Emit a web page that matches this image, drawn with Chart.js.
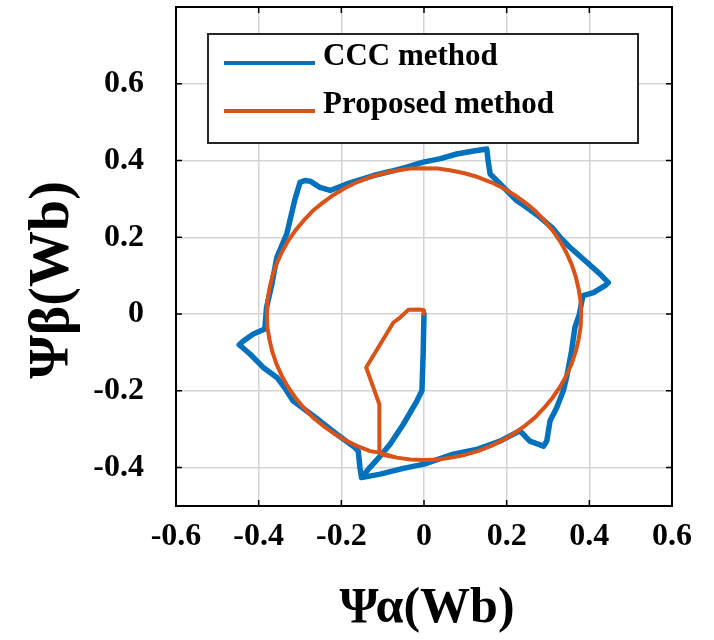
<!DOCTYPE html>
<html>
<head>
<meta charset="utf-8">
<script src="https://cdn.jsdelivr.net/npm/chart.js@4.4.1/dist/chart.umd.min.js"></script>
<style>
  body { margin: 0; background: #fff; }
  #wrap { width: 714px; height: 640px; position: relative; }
</style>
</head>
<body>
<div id="wrap"><canvas id="myChart"></canvas></div>
<script>
// CCC method flux trajectory (start-up transient, then the steady loop)
const cccX = [0.0, -0.002, -0.005, -0.017, -0.05, -0.082, -0.106, -0.131, -0.151,
    -0.106, -0.05, 0.0, 0.071, 0.13, 0.184, 0.232,
    0.256, 0.289, 0.297, 0.305, 0.321, 0.337, 0.345, 0.357, 0.365, 0.376, 0.382, 0.385,
    0.41, 0.438, 0.446, 0.426, 0.394, 0.353, 0.329, 0.313, 0.281, 0.248, 0.224, 0.2, 0.176, 0.16,
    0.155, 0.152, 0.12, 0.079, 0.04, -0.002, -0.042, -0.08, -0.122, -0.187, -0.227,
    -0.252, -0.275, -0.288, -0.3, -0.312, -0.332, -0.356, -0.368, -0.381, -0.385,
    -0.413, -0.437, -0.447, -0.421, -0.389, -0.356, -0.335, -0.317, -0.252, -0.211, -0.167, -0.159, -0.155, -0.151];
const cccY = [0.0, -0.1, -0.2, -0.226, -0.287, -0.339, -0.37, -0.4, -0.426,
    -0.417, -0.402, -0.391, -0.365, -0.352, -0.331, -0.304,
    -0.331, -0.344, -0.331, -0.278, -0.244, -0.2, -0.165, -0.096, -0.035, 0.0, 0.035, 0.048,
    0.056, 0.074, 0.082, 0.104, 0.135, 0.174, 0.2, 0.222, 0.252, 0.278, 0.296, 0.322, 0.348, 0.365,
    0.4, 0.43, 0.425, 0.417, 0.405, 0.396, 0.383, 0.372, 0.361, 0.339, 0.322,
    0.33, 0.346, 0.348, 0.343, 0.3, 0.209, 0.148, 0.078, 0.017, -0.039,
    -0.052, -0.07, -0.08, -0.104, -0.139, -0.165, -0.195, -0.226, -0.278, -0.313, -0.348, -0.357, -0.4, -0.426];

// Proposed method flux trajectory (short transient, then the circle)
const propX = [0.002, 0.0, -0.01, -0.038, -0.058, -0.074, -0.14, -0.108, -0.108,
    -0.066, -0.033, 0.0, 0.033, 0.066, 0.098, 0.13, 0.161, 0.19, 0.218, 0.244, 0.269,
    0.291, 0.311, 0.329, 0.344, 0.357, 0.367, 0.374, 0.379,
    0.38, 0.379, 0.374, 0.367, 0.357, 0.344, 0.329, 0.311, 0.291, 0.269, 0.244, 0.218,
    0.19, 0.161, 0.13, 0.098, 0.066, 0.033,
    0.0, -0.033, -0.066, -0.098, -0.13, -0.161, -0.19, -0.218, -0.244, -0.269,
    -0.291, -0.311, -0.329, -0.344, -0.357, -0.367, -0.374, -0.379,
    -0.38, -0.379, -0.374, -0.367, -0.357, -0.344, -0.329, -0.311, -0.291, -0.269, -0.244, -0.218,
    -0.19, -0.161, -0.13, -0.108, -0.098, -0.066];
const propY = [0.0, 0.01, 0.012, 0.011, -0.009, -0.022, -0.139, -0.235, -0.361,
    -0.374, -0.379, -0.38, -0.379, -0.374, -0.367, -0.357, -0.344, -0.329, -0.311, -0.291, -0.269,
    -0.244, -0.218, -0.19, -0.161, -0.13, -0.098, -0.066, -0.033,
    0.0, 0.033, 0.066, 0.098, 0.13, 0.161, 0.19, 0.218, 0.244, 0.269, 0.291, 0.311,
    0.329, 0.344, 0.357, 0.367, 0.374, 0.379,
    0.38, 0.379, 0.374, 0.367, 0.357, 0.344, 0.329, 0.311, 0.291, 0.269,
    0.244, 0.218, 0.19, 0.161, 0.13, 0.098, 0.066, 0.033,
    0.0, -0.033, -0.066, -0.098, -0.13, -0.161, -0.19, -0.218, -0.244, -0.269, -0.291, -0.311,
    -0.329, -0.344, -0.357, -0.361, -0.367, -0.374];

const xTicks = [-0.6, -0.4, -0.2, 0, 0.2, 0.4, 0.6];
const yTicks = [-0.4, -0.2, 0, 0.2, 0.4, 0.6];
const xTitle = 'Ψα(Wb)';
const yTitle = 'Ψβ(Wb)';

const serif = "'Liberation Serif', 'Times New Roman', serif";
const fmt = v => {
    const r = Math.round(v * 10) / 10;
    return r === 0 ? '0' : r.toFixed(1);
};

// box, inward ticks, axis titles and legend drawn MATLAB style
const framePlugin = {
    id: 'frame',
    afterDraw(chart) {
        const { ctx, chartArea: a, scales } = chart;
        ctx.save();
        ctx.strokeStyle = '#000';
        ctx.lineWidth = 2;
        ctx.strokeRect(a.left, a.top, a.right - a.left, a.bottom - a.top);
        ctx.lineWidth = 1.5;
        ctx.beginPath();
        xTicks.forEach(v => {
            const px = scales.x.getPixelForValue(v);
            ctx.moveTo(px, a.bottom); ctx.lineTo(px, a.bottom - 6);
            ctx.moveTo(px, a.top); ctx.lineTo(px, a.top + 6);
        });
        yTicks.forEach(v => {
            const py = scales.y.getPixelForValue(v);
            ctx.moveTo(a.left, py); ctx.lineTo(a.left + 6, py);
            ctx.moveTo(a.right, py); ctx.lineTo(a.right - 6, py);
        });
        ctx.stroke();

        // axis titles
        ctx.fillStyle = '#000';
        ctx.textAlign = 'center';
        ctx.textBaseline = 'middle';
        ctx.font = 'bold 50px ' + serif;
        ctx.fillText(xTitle, 427, 609);
        ctx.save();
        ctx.translate(54, 280);
        ctx.rotate(-Math.PI / 2);
        ctx.font = 'bold 56px ' + serif;
        ctx.fillText(yTitle, 0, 0);
        ctx.restore();

        // legend
        const lx = 208, ly = 34, lw = 430, lh = 109;
        ctx.fillStyle = '#fff';
        ctx.fillRect(lx, ly, lw, lh);
        ctx.strokeStyle = '#262626';
        ctx.lineWidth = 2;
        ctx.strokeRect(lx, ly, lw, lh);
        const rows = [65, 113];
        chart.data.datasets.forEach((ds, i) => {
            const y = rows[i];
            ctx.strokeStyle = ds.borderColor;
            ctx.lineWidth = 4;
            ctx.beginPath();
            ctx.moveTo(224, y - 2); ctx.lineTo(315, y - 2);
            ctx.stroke();
            ctx.fillStyle = '#000';
            ctx.font = 'bold 31px ' + serif;
            ctx.textBaseline = 'alphabetic';
            ctx.textAlign = 'left';
            ctx.fillText(ds.label, 323, y);
        });
        ctx.restore();
    }
};

const chartElement = document.getElementById('myChart');

new Chart(chartElement, {
    type: 'scatter',
    data: {
        datasets: [{
            label: 'CCC method',
            data: cccX.map((x, i) => ({ x: x, y: cccY[i] })),
            showLine: true,
            borderColor: '#0072BD',
            borderWidth: 5.5,
            borderJoinStyle: 'round',
            borderCapStyle: 'round',
            pointRadius: 0,
            order: 2
        }, {
            label: 'Proposed method',
            data: propX.map((x, i) => ({ x: x, y: propY[i] })),
            showLine: true,
            borderColor: '#D95319',
            borderWidth: 4,
            borderJoinStyle: 'round',
            pointRadius: 0,
            order: 1
        }]
    },
    options: {
        responsive: true,
        maintainAspectRatio: false,
        animation: false,
        layout: { padding: { top: 7, right: 42, left: 0, bottom: 0 } },
        plugins: {
            legend: { display: false },
            tooltip: { enabled: false }
        },
        scales: {
            x: {
                type: 'linear',
                min: -0.6,
                max: 0.6,
                afterBuildTicks: s => { s.ticks = xTicks.map(v => ({ value: v })); },
                afterFit: s => { s.height = 134; s.paddingLeft = 0; s.paddingRight = 0; },
                ticks: {
                    callback: fmt,
                    color: '#000',
                    padding: 12,
                    maxRotation: 0,
                    font: { family: serif, size: 32, weight: 'bold' }
                },
                grid: { color: '#d4d4d4', lineWidth: 1.5, drawTicks: false },
                border: { display: true, color: '#000', width: 2 },
                title: { display: false }
            },
            y: {
                type: 'linear',
                min: -0.5,
                max: 0.8,
                afterBuildTicks: s => { s.ticks = yTicks.map(v => ({ value: v })); },
                afterFit: s => { s.width = 176; s.paddingTop = 0; s.paddingBottom = 0; },
                ticks: {
                    callback: fmt,
                    color: '#000',
                    padding: 32,
                    font: { family: serif, size: 32, weight: 'bold' }
                },
                grid: { color: '#d4d4d4', lineWidth: 1.5, drawTicks: false },
                border: { display: true, color: '#000', width: 2 },
                title: { display: false }
            }
        }
    },
    plugins: [framePlugin]
});
</script>
</body>
</html>
